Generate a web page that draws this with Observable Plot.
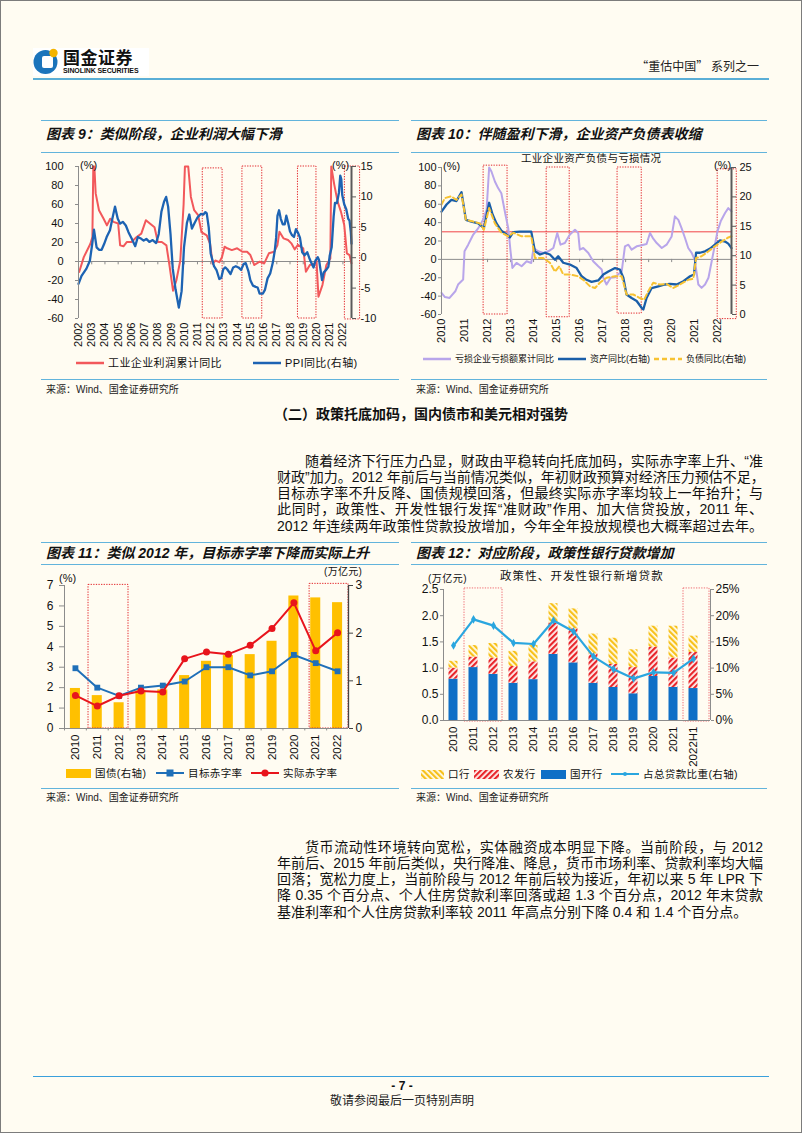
<!DOCTYPE html>
<html lang="zh">
<head>
<meta charset="utf-8">
<script src="https://cdn.jsdelivr.net/npm/d3@7"></script>
<script src="https://cdn.jsdelivr.net/npm/@observablehq/plot@0.6"></script>
<style>
html,body{margin:0;padding:0;background:#fffcf2;}
#page{position:relative;width:802px;height:1133px;box-sizing:border-box;border:1px solid #7c7c7c;background:#fffcf2;overflow:hidden;font-family:"Liberation Sans","Noto Sans CJK SC",sans-serif;color:#111;}
.a{position:absolute;white-space:nowrap;}
.hl{position:absolute;height:0;border-top:1.5px solid #62b4dc;}
.ttl{position:absolute;white-space:nowrap;font-size:14px;font-weight:bold;font-style:italic;line-height:18px;color:#111;}
.src{position:absolute;white-space:nowrap;font-size:10px;line-height:12px;color:#222;}
.p{position:absolute;font-size:14px;line-height:17px;height:17px;white-space:nowrap;text-align:justify;text-align-last:justify;color:#111;}
.lg{position:absolute;white-space:nowrap;line-height:12px;display:flex;align-items:center;color:#111;}
.lg svg{margin-right:4px;}
.chart{position:absolute;}
</style>
</head>
<body>
<svg width="0" height="0" style="position:absolute">
  <defs>
    <pattern id="hatchY" patternUnits="userSpaceOnUse" width="4" height="4" patternTransform="rotate(-45)">
      <rect width="4" height="4" fill="#fffbea"/>
      <rect width="2.2" height="4" fill="#f7c11c"/>
    </pattern>
    <pattern id="hatchR" patternUnits="userSpaceOnUse" width="4" height="4" patternTransform="rotate(45)">
      <rect width="4" height="4" fill="#fff6f2"/>
      <rect width="2.2" height="4" fill="#e8262b"/>
    </pattern>
  </defs>
</svg>
<div id="page"></div>
<script>
// ---------------- DATA ----------------
// Chart 9: industrial profit cumulative YoY (%), [year, value]
const c9Profit = [[2002.05,-11],[2002.4,4.6],[2002.9,18.7],[2003.05,25.8],[2003.12,100],[2003.2,100],[2003.3,71.7],[2003.55,54],[2003.9,45],[2004.15,38],[2004.4,45],[2004.65,41.7],[2005.0,40],[2005.15,17],[2005.4,16],[2005.65,20.5],[2006.0,20.5],[2006.4,25.8],[2006.75,29.3],[2007.1,43.5],[2007.4,40],[2007.75,36],[2008.0,20.5],[2008.3,20.5],[2008.65,17],[2008.9,-6],[2009.15,-30.7],[2009.4,-20],[2009.7,1],[2009.95,60],[2010.05,100],[2010.3,100],[2010.5,68],[2010.75,54],[2011.05,48.8],[2011.3,31],[2011.7,27.6],[2011.95,18.7],[2012.15,-2.5],[2012.35,1],[2012.65,-0.7],[2012.85,4.6],[2013.05,15.6],[2013.25,13.9],[2013.6,12],[2014.0,13.9],[2014.4,10.3],[2014.75,10.3],[2015.0,6.8],[2015.3,-3.7],[2015.7,-0.2],[2016.05,-2],[2016.4,8.6],[2016.8,10.3],[2017.05,17.4],[2017.2,31.4],[2017.5,24.4],[2017.85,22.6],[2018.1,19.1],[2018.35,12.8],[2018.6,17.4],[2019.0,13.9],[2019.2,-10.8],[2019.5,-3.7],[2019.9,-2],[2020.0,1.5],[2020.15,-37.1],[2020.45,-24.8],[2020.75,-3.7],[2021.05,3.3],[2021.12,100],[2021.35,80.7],[2021.6,63],[2021.85,52.5],[2022.1,38.5],[2022.3,8.6],[2022.5,6.8],[2022.65,-2]];
// Chart 9: PPI YoY (%, right axis), [year, value]
const c9Ppi = [[2002.0,-4.3],[2002.23,-3.0],[2002.6,-1.8],[2002.86,-0.5],[2003.04,2.3],[2003.17,4.6],[2003.37,1.7],[2003.55,1.3],[2003.75,1.3],[2003.93,2.2],[2004.13,3.4],[2004.38,4.5],[2004.56,6.4],[2004.76,8.4],[2004.97,6.4],[2005.15,5.6],[2005.35,5.9],[2005.58,5.3],[2005.78,4.2],[2006.03,3.1],[2006.29,1.9],[2006.49,3.4],[2006.75,3.1],[2006.93,2.8],[2007.13,3.1],[2007.36,2.6],[2007.61,2.9],[2007.87,2.4],[2008.07,3.9],[2008.27,7.55],[2008.47,9.2],[2008.63,10.0],[2008.78,8.4],[2008.96,3.9],[2009.13,-1.8],[2009.34,-5.2],[2009.59,-8.2],[2009.8,-5.5],[2009.98,1.7],[2010.2,5.7],[2010.38,7.1],[2010.58,4.8],[2010.8,5.8],[2011.0,6.6],[2011.25,7.2],[2011.45,7.1],[2011.6,7.5],[2011.7,7.3],[2011.85,5.0],[2012.0,0.7],[2012.25,-1.4],[2012.45,-2.1],[2012.65,-3.5],[2012.8,-3.3],[2012.95,-1.9],[2013.1,-1.6],[2013.25,-1.9],[2013.5,-2.7],[2013.7,-1.6],[2013.9,-1.4],[2014.1,-1.6],[2014.3,-2.0],[2014.5,-1.0],[2014.65,-0.9],[2014.85,-2.2],[2015.0,-3.7],[2015.2,-4.6],[2015.4,-4.8],[2015.55,-4.9],[2015.7,-5.9],[2015.95,-5.9],[2016.1,-5.3],[2016.3,-3.4],[2016.5,-2.6],[2016.7,-0.8],[2016.85,1.2],[2016.95,3.3],[2017.05,6.9],[2017.17,7.8],[2017.3,6.4],[2017.45,5.5],[2017.6,5.5],[2017.72,6.9],[2017.85,5.8],[2018.0,4.3],[2018.15,3.7],[2018.3,3.4],[2018.45,4.7],[2018.6,4.1],[2018.75,3.3],[2018.92,0.9],[2019.1,0.4],[2019.3,0.9],[2019.45,0.0],[2019.6,-0.8],[2019.78,-1.6],[2019.92,-0.5],[2020.1,0.1],[2020.2,-0.4],[2020.42,-3.7],[2020.55,-2.4],[2020.7,-2.1],[2020.9,-1.5],[2021.0,0.3],[2021.15,1.7],[2021.3,6.8],[2021.4,9.0],[2021.55,9.0],[2021.7,10.7],[2021.8,13.5],[2021.88,12.9],[2021.95,10.3],[2022.1,8.8],[2022.25,8.0],[2022.4,6.4],[2022.5,6.1],[2022.6,4.2],[2022.65,2.3]];
const c9Years = d3.range(2002, 2023);
const c9LeftTicks = [-60,-40,-20,0,20,40,60,80,100];
const c9RightTicks = [-10,-5,0,5,10,15];
// highlighted periods: [start, end, top, bottom] (left-axis units)
const c9Boxes = [[2011.4,2012.9,98,-60],[2014.4,2015.9,100,-60],[2018.6,2020.0,100,-60],[2022.15,2023.3,100,-61]];

// Chart 10: loss YoY (left), assets & liabilities YoY (right)
const c10Loss = [[2010.0,-36.5],[2010.15,-41],[2010.35,-42],[2010.6,-34.7],[2010.72,-27.4],[2010.94,-22],[2011.0,8.8],[2011.16,16],[2011.38,27],[2011.6,34],[2011.8,43],[2011.96,54],[2012.07,100],[2012.17,95.6],[2012.32,84.8],[2012.46,77.6],[2012.6,72],[2012.78,48.6],[2012.9,34],[2013.0,8.8],[2013.08,-9.3],[2013.26,-3.9],[2013.48,-7.5],[2013.7,-2],[2013.9,-3.9],[2014.0,12.4],[2014.2,8.8],[2014.42,7],[2014.64,8.8],[2014.86,12.4],[2015.03,28.7],[2015.17,16],[2015.36,17.8],[2015.58,27],[2015.8,32.3],[2015.94,28.7],[2016.01,10.6],[2016.16,12.4],[2016.38,7],[2016.59,-2],[2016.81,-7.5],[2016.96,-11],[2017.03,-20],[2017.17,-27.4],[2017.35,-20],[2017.54,-19.5],[2017.83,-13],[2017.97,14.2],[2018.12,16],[2018.26,10.6],[2018.48,14.2],[2018.7,15.3],[2018.91,16.7],[2019.06,28.7],[2019.2,22.5],[2019.35,17.8],[2019.57,12.4],[2019.78,16],[2020.0,25],[2020.14,46.8],[2020.29,43],[2020.43,34],[2020.58,23.3],[2020.72,12.4],[2020.87,7],[2021.0,-0.3],[2021.16,-27.4],[2021.3,-31],[2021.45,-27.4],[2021.6,-20],[2021.74,-2],[2021.88,16],[2021.99,30.5],[2022.13,41.4],[2022.32,50.4],[2022.46,55.8],[2022.6,52.2]];
const c10Assets = [[2010.0,17.5],[2010.22,18.7],[2010.43,19.5],[2010.65,19.3],[2010.87,20.8],[2011.06,16.1],[2011.3,15.8],[2011.6,15.5],[2011.84,14.7],[2012.07,19.0],[2012.22,17.0],[2012.39,15.5],[2012.6,14.25],[2012.83,13.6],[2012.97,13.1],[2013.12,14.0],[2013.4,14.1],[2013.7,14.1],[2013.9,14.1],[2014.06,10.75],[2014.28,10.2],[2014.5,10.5],[2014.71,10.2],[2014.93,9.3],[2015.07,9.9],[2015.29,8.8],[2015.58,8.5],[2015.87,7.9],[2016.09,6.5],[2016.3,5.9],[2016.52,5.55],[2016.81,5.8],[2017.03,6.8],[2017.25,7.3],[2017.54,7.9],[2017.75,7.65],[2017.9,6.25],[2018.04,3.4],[2018.26,2.8],[2018.48,2.3],[2018.7,1.1],[2018.77,0.85],[2018.91,2.8],[2019.13,4.5],[2019.42,4.8],[2019.71,5.1],[2019.93,5.2],[2020.22,5.1],[2020.51,5.65],[2020.8,6.5],[2020.97,6.8],[2021.06,10.5],[2021.23,10.5],[2021.45,10.75],[2021.67,11.2],[2021.88,11.9],[2022.1,12.6],[2022.32,12.4],[2022.46,12.05],[2022.6,11.3]];
const c10Liab = [[2010.0,18.7],[2010.15,19.8],[2010.43,20.1],[2010.65,19.5],[2010.87,20.4],[2011.06,16.1],[2011.38,15.8],[2011.67,15.5],[2011.84,14.4],[2012.07,18.1],[2012.32,15.5],[2012.6,13.9],[2012.9,13.3],[2013.12,13.9],[2013.48,13.3],[2013.9,13.3],[2014.06,9.6],[2014.42,9.6],[2014.71,8.8],[2014.93,7.3],[2015.12,8.2],[2015.29,6.8],[2015.58,6.8],[2015.94,6.5],[2016.16,5.9],[2016.45,4.8],[2016.67,4.5],[2016.88,5.4],[2017.17,6.25],[2017.54,6.5],[2017.83,6.5],[2018.04,3.4],[2018.33,3.4],[2018.62,2.8],[2018.8,2.5],[2018.99,4.0],[2019.2,5.4],[2019.49,5.1],[2019.78,5.2],[2020.07,4.5],[2020.36,5.1],[2020.72,5.9],[2020.94,6.05],[2021.06,9.6],[2021.3,9.9],[2021.6,10.75],[2021.88,11.6],[2022.17,12.4],[2022.46,13.1],[2022.6,13.3]];
const c10Years = d3.range(2010, 2023);
const c10LeftTicks = [-60,-40,-20,0,20,40,60,80,100];
const c10RightTicks = [0,5,10,15,20,25];
const c10RefLine = [30];
const c10Boxes = [[2011.83,2012.87,102,-60],[2014.57,2015.57,100,-63],[2017.65,2018.7,100,-59],[2022.0,2022.83,98,-65]];

// Chart 11: deficit
const c11Years = [2010,2011,2012,2013,2014,2015,2016,2017,2018,2019,2020,2021,2022];
const c11Bond = [0.84,0.69,0.54,0.79,0.81,1.11,1.41,1.53,1.55,1.83,2.78,2.74,2.64]; // 万亿元, right axis
const c11Target = [2.95,2.0,1.6,2.0,2.1,2.3,3.0,3.0,2.6,2.8,3.6,3.2,2.8];
const c11Actual = [1.62,1.1,1.6,1.84,1.79,3.41,3.74,3.64,4.07,4.9,6.15,3.8,4.69];
const c11LeftTicks = [0,1,2,3,4,5,6,7];
const c11RightTicks = [0,1,2,3];
const c11Boxes = [[2010.6,2012.43,7.03,0],[2020.72,2022.5,7.08,0]];

// Chart 12: policy bank new loans (万亿元)
const c12Years = [2010,2011,2012,2013,2014,2015,2016,2017,2018,2019,2020,2021,2022];
const c12Labels = ["2010","2011","2012","2013","2014","2015","2016","2017","2018","2019","2020","2021","2022H1"];
const c12Cdb  = [0.79,1.01,0.88,0.71,0.78,1.26,1.10,0.71,0.63,0.51,0.84,0.63,0.61]; // 国开行
const c12Adbc = [0.21,0.20,0.31,0.32,0.34,0.60,0.65,0.56,0.44,0.50,0.56,0.56,0.69]; // 农发行
const c12Exim = [0.13,0.22,0.28,0.29,0.31,0.37,0.38,0.38,0.50,0.34,0.40,0.61,0.31]; // 口行
const c12Share = [14.3,19.3,18.1,14.8,14.6,19.1,17.0,12.2,9.8,8.0,9.2,9.1,11.8]; // %, right axis
const c12LeftTicks = [0,0.5,1,1.5,2,2.5];
const c12RightTicks = [0,5,10,15,20,25];
const c12Boxes = [[2010.55,2012.45,2.52,-0.02],[2021.5,2022.8,2.52,-0.02]];

// Text
const para1Lines = [
  "随着经济下行压力凸显，财政由平稳转向托底加码，实际赤字率上升、“准",
  "财政”加力。2012 年前后与当前情况类似，年初财政预算对经济压力预估不足，",
  "目标赤字率不升反降、国债规模回落，但最终实际赤字率均较上一年抬升；与",
  "此同时，政策性、开发性银行发挥“准财政”作用、加大信贷投放，2011 年、",
  "2012 年连续两年政策性贷款投放增加，今年全年投放规模也大概率超过去年。"
];
const para2Lines = [
  "货币流动性环境转向宽松，实体融资成本明显下降。当前阶段，与 2012",
  "年前后、2015 年前后类似，央行降准、降息，货币市场利率、贷款利率均大幅",
  "回落；宽松力度上，当前阶段与 2012 年前后较为接近，年初以来 5 年 LPR 下",
  "降 0.35 个百分点、个人住房贷款利率回落或超 1.3 个百分点，2012 年末贷款",
  "基准利率和个人住房贷款利率较 2011 年高点分别下降 0.4 和 1.4 个百分点。"
];

// ---------------- LAYOUT ----------------
const page = document.getElementById("page");
function add(html, style, cls) {
  const d = document.createElement("div");
  if (cls) d.className = cls;
  d.innerHTML = html;
  Object.assign(d.style, style);
  page.appendChild(d);
  return d;
}
function line(left, top, width, w, color) {
  add("", {left: left + "px", top: top + "px", width: width + "px", borderTopWidth: (w||1.5) + "px", borderTopColor: color || "#62b4dc"}, "hl");
}

// Header
add(`<svg width="116" height="28"><rect width="116" height="28" fill="#fff"/>
  <circle cx="12.5" cy="14" r="12" fill="#1b74bb"/>
  <rect x="9" y="8" width="11" height="12" rx="2" fill="#fff"/>
  <circle cx="20.5" cy="5" r="4.2" fill="#f4b400"/>
  </svg>`, {left: "32px", top: "47px", width: "116px", height: "28px"}, "a");
add("国金证券", {left: "62px", top: "46px", fontSize: "17px", fontWeight: "bold", letterSpacing: "0.5px", fontFamily: "Noto Sans CJK SC", lineHeight: "20px"}, "a");
add("SINOLINK SECURITIES", {left: "62px", top: "66px", fontSize: "7px", fontWeight: "bold", lineHeight: "8px", letterSpacing: "-0.1px"}, "a");
add("“重估中国” 系列之一", {right: "42px", top: "57px", fontSize: "12px", lineHeight: "16px", fontFamily: "Noto Sans CJK SC", color: "#222"}, "a");
line(32, 77, 736, 2, "#5aaed6");

// Chart blocks frame lines & titles
function block(left, width, topLine, titleTop, underTop, bottomTop, srcTop, title) {
  line(left, topLine, width);
  add(title, {left: (left + 5) + "px", top: titleTop + "px"}, "ttl");
  line(left, underTop, width);
  line(left, bottomTop, width);
  add("来源：Wind、国金证券研究所", {left: (left + 5) + "px", top: srcTop + "px"}, "src");
}
block(40, 358, 119, 124, 151, 378, 383, "图表 9：类似阶段，企业利润大幅下滑");
block(410, 356, 119, 124, 151, 378, 383, "图表 10：伴随盈利下滑，企业资产负债表收缩");
block(40, 358, 541, 543, 563, 787, 791, "图表 11：类似 2012 年，目标赤字率下降而实际上升");
block(410, 356, 541, 543, 563, 787, 791, "图表 12：对应阶段，政策性银行贷款增加");

// Section heading and paragraphs
add("（二）政策托底加码，国内债市和美元相对强势", {left: "273px", top: "402px", fontSize: "14px", fontWeight: "bold", lineHeight: "20px", fontFamily: "Noto Sans CJK SC"}, "a");
function para(lines, firstCenter, step, lastJustify) {
  lines.forEach((t, i) => {
    const first = i === 0;
    const d = add(t, {left: (first ? 304 : 276) + "px", width: (first ? 458 : 486) + "px", top: (firstCenter + i * step - 8.5) + "px"}, "p");
    if (!lastJustify && i === lines.length - 1) { d.style.textAlignLast = "left"; d.style.textAlign = "left"; }
  });
}
para(para1Lines, 460, 16.3, true);
para(para2Lines, 846, 16.3, false);

// Footer
line(32, 1075, 736, 1.5, "#3aa0dc");
add("- 7 -", {left: "0px", width: "802px", textAlign: "center", top: "1078px", fontSize: "12px", fontWeight: "bold", lineHeight: "14px"}, "a");
add("敬请参阅最后一页特别声明", {left: "0px", width: "802px", textAlign: "center", top: "1091px", fontSize: "12px", lineHeight: "16px", fontFamily: "Noto Sans CJK SC", color: "#222"}, "a");

// ---------------- CHARTS ----------------
const baseStyle = {background: "transparent", fontFamily: "Liberation Sans, Arial, sans-serif", fontSize: "10.5px", color: "#111", overflow: "visible"};
function place(svg, left, top) {
  const d = document.createElement("div");
  d.className = "chart";
  d.style.left = left + "px"; d.style.top = top + "px";
  d.appendChild(svg);
  page.appendChild(d);
}
const fmt = d => String(d);

// Chart 9
const c9R = v => -60 + (v + 10) * 6.4;
const c9X1 = 2022.65;
place(Plot.plot({
  width: 345, height: 200, marginLeft: 37, marginRight: 35, marginTop: 10, marginBottom: 38,
  x: {domain: [2002, c9X1]}, y: {domain: [-60, 100]},
  style: baseStyle,
  marks: [
    Plot.ruleY([0], {stroke: "#8c8c8c"}),
    Plot.ruleX(c9Years, {x: d => d, y1: 0, y2: -3.5, stroke: "#8c8c8c"}),
    Plot.rect(c9Boxes, {x1: d => d[0], x2: d => d[1], y1: d => d[2], y2: d => d[3], fill: "none", stroke: "#e2282c", strokeWidth: 1, strokeDasharray: "1.3,1.3"}),
    Plot.line(c9Profit, {x: d => d[0], y: d => d[1], stroke: "#f2585b", strokeWidth: 2}),
    Plot.line(c9Ppi, {x: d => d[0], y: d => c9R(d[1]), stroke: "#1d63b3", strokeWidth: 2.3}),
    Plot.ruleX([2002], {stroke: "#8c8c8c"}),
    Plot.ruleX([c9X1], {stroke: "#5a5a5a", strokeWidth: 2}),
    Plot.axisY({anchor: "left", ticks: c9LeftTicks, tickFormat: fmt, tickSize: 3, tickPadding: 12, stroke: "#8c8c8c", label: null, fontSize: 11}),
    Plot.axisY({anchor: "right", ticks: c9RightTicks.map(c9R), tickFormat: d => String(Math.round((d + 60) / 6.4 - 10)), tickSize: 4, tickPadding: 5, stroke: "#5a5a5a", label: null, fontSize: 11}),
    Plot.axisX({anchor: "bottom", ticks: c9Years, tickFormat: fmt, tickRotate: -90, tickSize: 0, tickPadding: 4, label: null, fontSize: 11})
  ]
}), 40, 155);
add("(%)", {left: "79px", top: "158px", fontSize: "11px"}, "a");
add("(%)", {left: "331px", top: "158px", fontSize: "11px"}, "a");

// Chart 10
const c10R = r => -60 + r * 6.4;
const c10X1 = 2022.6;
place(Plot.plot({
  width: 365, height: 205, marginLeft: 35, marginRight: 40, marginTop: 16, marginBottom: 42,
  x: {domain: [2010, c10X1]}, y: {domain: [-60, 100]},
  style: baseStyle,
  marks: [
    Plot.ruleY([0], {stroke: "#8c8c8c"}),
    Plot.ruleX(c10Years, {x: d => d, y1: 0, y2: -3.5, stroke: "#8c8c8c"}),
    Plot.ruleY(c10RefLine, {stroke: "#f04448", strokeWidth: 1}),
    Plot.rect(c10Boxes, {x1: d => d[0], x2: d => d[1], y1: d => d[2], y2: d => d[3], fill: "none", stroke: "#e2282c", strokeWidth: 1, strokeDasharray: "1.3,1.3"}),
    Plot.line(c10Loss, {x: d => d[0], y: d => d[1], stroke: "#b8a5ea", strokeWidth: 2}),
    Plot.line(c10Assets, {x: d => d[0], y: d => c10R(d[1]), stroke: "#1a5ea8", strokeWidth: 2.3}),
    Plot.line(c10Liab, {x: d => d[0], y: d => c10R(d[1]), stroke: "#f7c232", strokeWidth: 2, strokeDasharray: "5,3"}),
    Plot.ruleX([2010], {stroke: "#8c8c8c"}),
    Plot.ruleX([c10X1], {stroke: "#5a5a5a", strokeWidth: 2}),
    Plot.axisY({anchor: "left", ticks: c10LeftTicks, tickFormat: fmt, tickSize: 3, tickPadding: 2, stroke: "#8c8c8c", label: null, fontSize: 11}),
    Plot.axisY({anchor: "right", ticks: c10RightTicks.map(c10R), tickFormat: d => String(Math.round((d + 60) / 6.4)), tickSize: 4, tickPadding: 4, stroke: "#5a5a5a", label: null, fontSize: 11}),
    Plot.axisX({anchor: "bottom", ticks: c10Years, tickFormat: fmt, tickRotate: -90, tickSize: 0, tickPadding: 4, label: null, fontSize: 11})
  ]
}), 405, 150);
add("工业企业资产负债与亏损情况", {left: "520px", top: "150px", fontSize: "10.5px", lineHeight: "14px", letterSpacing: "0.3px"}, "a");
add("(%)", {left: "442px", top: "159px", fontSize: "11px"}, "a");
add("(%)", {left: "713px", top: "158px", fontSize: "11px"}, "a");

// Chart 11
const c11R = v => v * 7 / 3;
place(Plot.plot({
  width: 360, height: 195, marginLeft: 23, marginRight: 53, marginTop: 14, marginBottom: 38,
  x: {domain: [2009.5, 2022.5]}, y: {domain: [0, 7]},
  style: baseStyle,
  marks: [
    Plot.rect(c11Years, {x1: d => d - 0.23, x2: d => d + 0.23, y1: 0, y2: (d, i) => c11R(c11Bond[i]), fill: "#ffc000"}),
    Plot.rect(c11Boxes, {x1: d => d[0], x2: d => d[1], y1: d => d[2], y2: d => d[3], fill: "none", stroke: "#e2282c", strokeWidth: 1, strokeDasharray: "1.3,1.3"}),
    Plot.ruleY([0], {stroke: "#8c8c8c"}),
    Plot.ruleX(c11Years, {x: d => d - 0.5, y1: 0, y2: -0.12, stroke: "#8c8c8c"}),
    Plot.line(c11Years, {x: d => d, y: (d, i) => c11Target[i], stroke: "#1f6fb8", strokeWidth: 2}),
    Plot.dot(c11Years, {x: d => d, y: (d, i) => c11Target[i], symbol: "square", r: 3.3, fill: "#1f6fb8"}),
    Plot.line(c11Years, {x: d => d, y: (d, i) => c11Actual[i], stroke: "#e8141c", strokeWidth: 2}),
    Plot.dot(c11Years, {x: d => d, y: (d, i) => c11Actual[i], r: 3.5, fill: "#e8141c"}),
    Plot.ruleX([2009.5], {stroke: "#8c8c8c"}),
    Plot.ruleX([2022.5], {stroke: "#444", strokeWidth: 1.3}),
    Plot.axisY({anchor: "left", ticks: c11LeftTicks, tickFormat: fmt, tickSize: 5, tickPadding: 6, stroke: "#8c8c8c", label: null, fontSize: 12}),
    Plot.axisY({anchor: "right", ticks: c11RightTicks.map(c11R), tickFormat: d => String(Math.round(d * 3 / 7)), tickSize: 4, tickPadding: 3, stroke: "#444", label: null, fontSize: 12}),
    Plot.axisX({anchor: "bottom", ticks: c11Years, tickFormat: fmt, tickRotate: -90, tickSize: 0, tickPadding: 6, label: null, fontSize: 11.5})
  ]
}), 40, 570);
add("(%)", {left: "58px", top: "571px", fontSize: "11px", lineHeight: "13px"}, "a");
add("(万亿元)", {left: "323px", top: "565px", fontSize: "10px", lineHeight: "12px", letterSpacing: "0.3px"}, "a");

// Chart 12
const c12Mid = c12Cdb.map((v, i) => v + c12Adbc[i]);
const c12Top = c12Mid.map((v, i) => v + c12Exim[i]);
const c12R = s => s / 10;
place(Plot.plot({
  width: 345, height: 196, marginLeft: 37, marginRight: 41, marginTop: 16, marginBottom: 49,
  x: {domain: [2009.5, 2022.85]}, y: {domain: [0, 2.5]},
  style: baseStyle,
  marks: [
    Plot.rect(c12Years, {x1: d => d - 0.225, x2: d => d + 0.225, y1: 0, y2: (d, i) => c12Cdb[i], fill: "#0f6fc6"}),
    Plot.rect(c12Years, {x1: d => d - 0.225, x2: d => d + 0.225, y1: (d, i) => c12Cdb[i], y2: (d, i) => c12Mid[i], fill: "url(#hatchR)"}),
    Plot.rect(c12Years, {x1: d => d - 0.225, x2: d => d + 0.225, y1: (d, i) => c12Mid[i], y2: (d, i) => c12Top[i], fill: "url(#hatchY)"}),
    Plot.rect(c12Boxes, {x1: d => d[0], x2: d => d[1], y1: d => d[2], y2: d => d[3], fill: "none", stroke: "#ef6f75", strokeWidth: 1, strokeDasharray: "1.3,1.3"}),
    Plot.ruleY([0], {stroke: "#8c8c8c"}),
    Plot.line(c12Years, {x: d => d, y: (d, i) => c12R(c12Share[i]), stroke: "#2aa6df", strokeWidth: 2.2}),
    Plot.dot(c12Years, {x: d => d, y: (d, i) => c12R(c12Share[i]), r: 2.6, fill: "#2aa6df", symbol: "diamond"}),
    Plot.ruleX([2009.5], {stroke: "#8c8c8c"}),
    Plot.ruleX([2022.85], {stroke: "#8c8c8c"}),
    Plot.axisY({anchor: "left", ticks: c12LeftTicks, tickFormat: d3.format(".1f"), tickSize: 3, tickPadding: 2, stroke: "#8c8c8c", label: null, fontSize: 12}),
    Plot.axisY({anchor: "right", ticks: c12RightTicks.map(c12R), tickFormat: d => Math.round(d * 10) + "%", tickSize: 3, tickPadding: 2, stroke: "#8c8c8c", label: null, fontSize: 12}),
    Plot.axisX({anchor: "bottom", ticks: c12Years, tickFormat: (d) => c12Labels[c12Years.indexOf(d)], tickRotate: -90, tickSize: 0, tickPadding: 6, label: null, fontSize: 11.5})
  ]
}), 405, 572);
add("(万亿元)", {left: "427px", top: "569px", fontSize: "10px", letterSpacing: "0.5px"}, "a");
add("政策性、开发性银行新增贷款", {left: "499px", top: "568px", fontSize: "11.5px", lineHeight: "15px", letterSpacing: "1.1px"}, "a");

// ---------------- LEGENDS ----------------
function sw(kind, color, extra) {
  if (kind === "line") return `<svg width="28" height="8"><line x1="0" y1="4" x2="28" y2="4" stroke="${color}" stroke-width="2.5" ${extra||""}/></svg>`;
  if (kind === "rect") return `<svg width="25" height="9"><rect width="25" height="9" fill="${color}"/></svg>`;
  if (kind === "sq") return `<svg width="28" height="8"><line x1="0" y1="4" x2="28" y2="4" stroke="${color}" stroke-width="2"/><rect x="10.5" y="0.5" width="7" height="7" fill="${color}"/></svg>`;
  if (kind === "ci") return `<svg width="28" height="8"><line x1="0" y1="4" x2="28" y2="4" stroke="${color}" stroke-width="2"/><circle cx="14" cy="4" r="3.6" fill="${color}"/></svg>`;
  if (kind === "dot") return `<svg width="28" height="8"><line x1="0" y1="4" x2="28" y2="4" stroke="${color}" stroke-width="2"/><circle cx="14" cy="4" r="2" fill="${color}"/></svg>`;
}
function legend(top, fs, ls, items) {
  items.forEach(([x, html, text]) => add(html + `<span>${text}</span>`, {left: x + "px", top: (top - 6) + "px", fontSize: fs + "px", letterSpacing: ls + "px"}, "lg"));
}
legend(362, 11, 0.4, [[75, sw("line", "#f2585b"), "工业企业利润累计同比"], [252, sw("line", "#1d63b3"), "PPI同比(右轴)"]]);
legend(358, 9, 0, [[422, sw("line", "#b8a5ea"), "亏损企业亏损额累计同比"], [557, sw("line", "#1a5ea8"), "资产同比(右轴)"], [653, sw("line", "#f7c232", 'stroke-dasharray="5,3"'), "负债同比(右轴)"]]);
legend(772, 10.5, 0.4, [[65, sw("rect", "#ffc000"), "国债(右轴)"], [155, sw("sq", "#1f6fb8"), "目标赤字率"], [250, sw("ci", "#e8141c"), "实际赤字率"]]);
legend(773, 10.5, 0.4, [[420, `<svg width="23" height="9"><rect width="23" height="9" fill="url(#hatchY)"/></svg>`, "口行"], [473, `<svg width="25" height="9"><rect width="25" height="9" fill="url(#hatchR)"/></svg>`, "农发行"], [540, sw("rect", "#0f6fc6"), "国开行"], [610, sw("dot", "#2aa6df"), "占总贷款比重(右轴)"]]);
</script>
</body>
</html>
